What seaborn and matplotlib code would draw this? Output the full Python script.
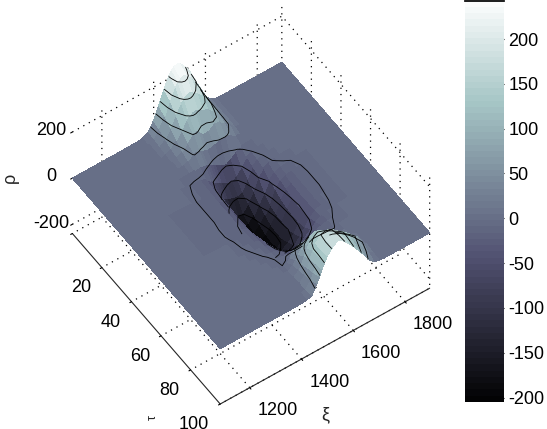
import matplotlib
matplotlib.use('Agg')
import matplotlib.pyplot as plt
import numpy as np
import seaborn as sns
from matplotlib.colors import ListedColormap

# Values
xi_values = [1086, 1250, 1340, 1360, 1380, 1400, 1420, 1440, 1460, 1470, 1480, 1490, 1500,
             1520, 1540, 1560, 1580, 1600, 1620, 1640, 1660, 1680, 1700, 1720, 1760, 1895]
tau_values = [0, 4, 8, 12, 16, 20, 24, 28, 32, 36, 40, 44, 48, 52, 56, 60, 64, 68, 72, 76, 80, 84, 88, 92, 96, 100]
rho_values = [
    [0, 0, 1, 5, 20, 55, 108, 165, 215, 232, 240, 243, 240, 215, 180, 125, 78, 35, 12, 3, 0, 0, 0, 0, 0, 0],
    [0, 0, 1, 4, 16, 45, 92, 150, 200, 212, 222, 226, 222, 200, 168, 120, 76, 35, 12, 3, 0, 0, 0, 0, 0, 0],
    [0, 0, 1, 3, 12, 32, 72, 118, 158, 172, 180, 182, 178, 160, 140, 108, 72, 34, 12, 3, 0, 0, 0, 0, 0, 0],
    [0, 0, 1, 2, 8, 20, 46, 78, 115, 125, 132, 134, 128, 118, 108, 88, 62, 33, 12, 3, 0, 0, 0, 0, 0, 0],
    [0, 0, 0, 1, 5, 12, 26, 54, 82, 85, 80, 68, 55, 58, 75, 72, 52, 32, 10, 2, 0, 0, 0, 0, 0, 0],
    [0, 0, 0, 0, 2, 6, 16, 40, 36, 30, 26, 22, 22, 28, 36, 38, 30, 14, 5, 1, 0, 0, 0, 0, 0, 0],
    [0, 0, 0, 0, 0, 1, 3, 6, 2, -3, -9, -14, -20, -35, -42, -28, -10, -4, 0, 0, 0, 0, 0, 0, 0, 0],
    [0, 0, -2, -5, -8, -10, -12, -18, -38, -48, -55, -62, -70, -82, -88, -75, -48, -18, -8, -3, -1, 0, 0, 0, 0, 0],
    [0, 0, -3, -7, -10, -12, -15, -22, -52, -75, -92, -102, -108, -118, -122, -115, -70, -30, -14, -8, -3, -1, 0, 0, 0, 0],
    [0, 0, -4, -8, -11, -13, -17, -26, -56, -88, -120, -135, -148, -168, -165, -135, -95, -42, -20, -11, -6, -2, 0, 0, 0, 0],
    [0, 0, -5, -8, -11, -14, -18, -28, -58, -92, -140, -162, -172, -190, -185, -160, -120, -85, -42, -22, -15, -11, -8, -3, 0, 0],
    [0, 0, -5, -8, -11, -14, -18, -30, -60, -96, -145, -168, -180, -198, -195, -172, -140, -110, -55, -28, -18, -14, -12, -7, -1, 0],
    [0, 0, -5, -8, -11, -14, -18, -30, -62, -100, -150, -172, -188, -205, -205, -185, -155, -120, -70, -36, -22, -15, -12, -8, -1, 0],
    [0, 0, -5, -9, -11, -14, -18, -30, -60, -98, -148, -172, -188, -205, -205, -188, -160, -122, -78, -44, -24, -16, -12, -8, -1, 0],
    [0, 0, -5, -9, -11, -13, -17, -28, -56, -90, -135, -165, -178, -192, -192, -180, -158, -128, -82, -50, -26, -17, -12, -8, -1, 0],
    [0, 0, -4, -7, -10, -12, -16, -24, -46, -70, -100, -130, -160, -175, -170, -155, -140, -115, -80, -46, -24, -16, -11, -7, -1, 0],
    [0, 0, -3, -6, -9, -11, -13, -20, -34, -48, -68, -88, -108, -128, -135, -130, -125, -98, -70, -42, -22, -14, -10, -6, 0, 0],
    [0, 0, -1, -4, -7, -9, -11, -15, -25, -35, -48, -58, -70, -85, -92, -92, -86, -68, -50, -30, -16, -11, -8, -4, 0, 0],
    [0, 0, 0, -1, -4, -7, -9, -12, -18, -24, -30, -36, -42, -50, -52, -50, -40, -30, -22, -15, -10, -8, -5, -2, 0, 0],
    [0, 0, 0, 0, -1, -3, -6, -9, -12, -14, -16, -18, -20, -20, -18, -14, -8, -8, -9, -9, -9, -5, -2, 0, 0, 0],
    [0, 0, 0, 0, 0, -1, -4, -8, -6, 8, 24, 36, 42, 45, 45, 35, 22, 15, 10, 5, -2, -1, 0, 0, 0, 0],
    [0, 0, 0, 0, 0, 0, -2, -2, 12, 28, 45, 62, 75, 92, 105, 100, 85, 70, 52, 38, 20, 8, 1, 0, 0, 0],
    [0, 0, 0, 0, 0, 0, 0, 3, 20, 40, 68, 95, 112, 128, 135, 128, 115, 100, 82, 65, 45, 20, 3, 0, 0, 0],
    [0, 0, 0, 0, 0, 0, 1, 6, 28, 52, 85, 118, 140, 166, 170, 165, 145, 130, 110, 90, 70, 35, 8, 1, 0, 0],
    [0, 0, 0, 0, 0, 0, 2, 8, 36, 62, 92, 120, 142, 172, 182, 172, 150, 128, 105, 80, 52, 20, 4, 0, 0, 0],
    [0, 0, 0, 0, 0, 1, 3, 10, 50, 75, 100, 125, 145, 170, 188, 175, 150, 125, 95, 65, 30, 8, 2, 0, 0, 0],
]
contour_levels = [-168, -128, -88, -48, -8, 34, 78, 122, 166, 210]
xi_ticks = [1200, 1400, 1600, 1800]
tau_ticks = [0, 20, 40, 60, 80, 100]
tau_labels = ['', '20', '40', '60', '80', '100']
rho_ticks = [-200, 0, 200]
bar_ticks = [-200, -150, -100, -50, 0, 50, 100, 150, 200]

sns.set_theme(style='white', rc={'grid.linestyle': (0, (1, 4)), 'grid.color': 'black', 'grid.linewidth': 0.9,
                                 'axes.unicode_minus': False})
plt.rcParams['font.family'] = ['Liberation Sans', 'DejaVu Sans']

X, Y = np.meshgrid(xi_values, tau_values)
Z = np.array(rho_values, dtype=float)
cmap = ListedColormap(sns.color_palette('bone', 64))

fig = plt.figure(figsize=(5.47, 4.29), dpi=100)
ax = fig.add_axes([0, 14 / 429, 491 / 547, 408 / 429], projection='3d', proj_type='ortho', computed_zorder=False)
ax.view_init(elev=53, azim=-124.7)
ax.set_box_aspect((259, 264, 187), zoom=0.97)
ax.patch.set_alpha(0)

surf = ax.plot_surface(X, Y, Z, cmap=cmap, vmin=-205, vmax=243, rstride=1, cstride=1,
                       linewidth=0, antialiased=False, shade=False, zorder=1)

# No contour on the parts of the surface that face away from the viewer
dz_dtau, dz_dxi = np.gradient(Z, tau_values, xi_values)
facing = 53556 - 49 * dz_dtau * 100 + 33.8 * dz_dxi * 809
Z_visible = np.ma.masked_where(facing < -20000, Z)
ax.contour(X, Y, Z_visible, levels=contour_levels, colors='black', linewidths=0.6, linestyles='solid', zorder=2)

ax.set_xlim(1086, 1895, view_margin=0)
ax.set_ylim(100, 0, view_margin=0)
ax.set_zlim(-240, 240, view_margin=0)
ax.set_xticks(xi_ticks)
ax.set_yticks(tau_ticks)
ax.set_yticklabels(tau_labels)
ax.set_zticks(rho_ticks)
ax.tick_params(labelsize=13, colors='black')
ax.tick_params(axis='x', pad=0)
ax.tick_params(axis='y', pad=0)
ax.tick_params(axis='z', pad=1)
for label in ax.get_xticklabels():
    label.set_ha('left')
for label in ax.get_yticklabels():
    label.set_ha('right')
for label in ax.get_zticklabels():
    label.set_va('center_baseline')

for axis in (ax.xaxis, ax.yaxis, ax.zaxis):
    axis.set_pane_color((1, 1, 1, 0))
    axis.pane.set_edgecolor('none')
    axis.line.set_linewidth(0.8)
    axis._axinfo['tick']['inward_factor'] = 0.1
    axis._axinfo['tick']['outward_factor'] = 0.0
    axis._axinfo['tick']['linewidth'] = {True: 0.8, False: 0.5}
ax.zaxis.line.set_color((0, 0, 0, 0))

fig.text(325 / 547, 1 - 415 / 429, 'ξ', fontsize=13, ha='center', va='center')
fig.text(153 / 547, 1 - 417 / 429, 'τ', fontsize=9, rotation=90, ha='center', va='center')
fig.text(10 / 547, 1 - 178 / 429, 'ρ', fontsize=13, rotation=90, ha='center', va='center')

# Colorbar on the right, ticks pointing in on both sides
cax = fig.add_axes([465 / 547, 27 / 429, 39 / 547, 401.5 / 429])
cb = fig.colorbar(surf, cax=cax)
cb.set_ticks(bar_ticks)
cb.outline.set_visible(False)
cax.tick_params(direction='in', left=True, right=True, length=3, width=0.8, labelsize=13, pad=3, colors='black')
cax.spines['top'].set_visible(True)
cax.spines['top'].set_color('black')

fig.savefig('out.png', dpi=100)
